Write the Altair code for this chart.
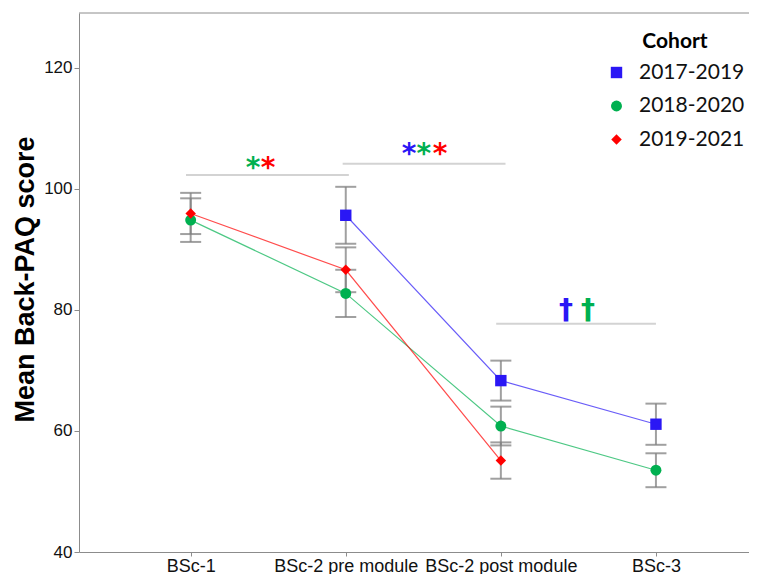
import json
import altair as alt
import pandas as pd

# ---------------- data ----------------
timepoints = ["BSc-1", "BSc-2 pre module", "BSc-2 post module", "BSc-3"]
cohorts = ["2017-2019", "2018-2020", "2019-2021"]
colors = ["#2a17f5", "#00b050", "#ff0000"]
shapes = ["square", "circle", "diamond"]

mean_2017 = [None, 95.6, 68.3, 61.1]
err_2017 = [None, 4.7, 3.3, 3.4]
mean_2018 = [94.8, 82.7, 60.8, 53.5]
err_2018 = [3.6, 3.9, 3.2, 2.8]
mean_2019 = [95.9, 86.6, 55.1, None]
err_2019 = [3.4, 3.7, 3.0, None]

# significance bars (start / end position on the timepoint axis, level)
sig_start = [-0.03, 0.98, 1.97]
sig_end = [1.02, 2.03, 3.0]
sig_level = [102.25, 104.1, 77.7]

# significance symbols
sym_text = ["*", "*", "*", "*", "*", "†", "†"]
sym_cohort = ["2018-2020", "2019-2021", "2017-2019", "2018-2020", "2019-2021",
              "2017-2019", "2018-2020"]
sym_x = [0.402, 0.499, 1.408, 1.504, 1.608, 2.42, 2.562]
sym_y = [104.3, 104.3, 106.5, 106.5, 106.5, 80.3, 80.3]

# ---------------- tables ----------------
rows = []
for coh, means, errs in [(cohorts[0], mean_2017, err_2017),
                         (cohorts[1], mean_2018, err_2018),
                         (cohorts[2], mean_2019, err_2019)]:
    for i, (m, e) in enumerate(zip(means, errs)):
        if m is None:
            continue
        rows.append({"x": i, "tp": timepoints[i], "cohort": coh, "mean": m,
                     "lo": m - e, "hi": m + e})
df = pd.DataFrame(rows)
sig_df = pd.DataFrame({"x": sig_start, "x2": sig_end, "y": sig_level})
sym_df = pd.DataFrame({"t": sym_text, "cohort": sym_cohort, "x": sym_x, "y": sym_y})

FONT = "Liberation Sans"
W, H = 670, 539
xscale = alt.Scale(domain=[-0.72, 3.60], nice=False, zero=False)
yscale = alt.Scale(domain=[40, 129], nice=False, zero=False)
cscale = alt.Scale(domain=cohorts, range=colors)
sscale = alt.Scale(domain=cohorts, range=shapes)

label_expr = json.dumps(timepoints) + "[datum.value]"

x_enc = alt.X("x:Q", scale=xscale,
              axis=alt.Axis(values=[0, 1, 2, 3], labelExpr=label_expr, title=None,
                            grid=False, tickSize=4, labelFontSize=18, labelFont=FONT,
                            labelColor="#111", labelPadding=1, labelFlush=False,
                            labelOverlap=False, domainColor="#8c8c8c",
                            tickColor="#8c8c8c"))
y_enc = alt.Y("mean:Q", scale=yscale,
              axis=alt.Axis(values=[40, 60, 80, 100, 120], grid=False, tickSize=5,
                            labelFontSize=17, labelFont=FONT, labelColor="#111",
                            labelPadding=2, domainColor="#8c8c8c", tickColor="#8c8c8c",
                            title="Mean Back-PAQ score", titleFont=FONT,
                            titleFontSize=27, titleFontWeight="bold", titleColor="black",
                            titleAngle=270, titleX=-46, titleY=266,
                            titleBaseline="alphabetic", titleAlign="center"))

base = alt.Chart(df)

err_rule = base.mark_rule(color="#808080", opacity=0.75, strokeWidth=2).encode(
    x=x_enc, y=alt.Y("lo:Q", scale=yscale), y2="hi:Q")
cap_lo = base.mark_tick(color="#808080", opacity=0.75, thickness=2, size=21,
                        orient="horizontal").encode(x=x_enc, y=alt.Y("lo:Q", scale=yscale))
cap_hi = base.mark_tick(color="#808080", opacity=0.75, thickness=2, size=21,
                        orient="horizontal").encode(x=x_enc, y=alt.Y("hi:Q", scale=yscale))

lines = base.mark_line(strokeWidth=1.2, opacity=0.7).encode(
    x=x_enc, y=y_enc,
    color=alt.Color("cohort:N", scale=cscale, legend=None),
    detail="cohort:N")

legend = alt.Legend(title="Cohort", orient="none", legendX=527, legendY=18,
                    titleFont="Lato", titleFontSize=21, titleFontWeight="bold",
                    titleColor="black", titleAnchor="middle", titlePadding=10,
                    labelFont="Lato", labelFontSize=21, labelColor="#111",
                    symbolSize=100, rowPadding=11.5, labelOffset=12,
                    symbolStrokeWidth=0)

points = base.mark_point(filled=True, opacity=1).encode(
    x=x_enc, y=y_enc,
    color=alt.Color("cohort:N", scale=cscale, legend=legend),
    shape=alt.Shape("cohort:N", scale=sscale, legend=legend),
    size=alt.Size("cohort:N", scale=alt.Scale(domain=cohorts, range=[130, 110, 140]),
                  legend=None))

sig_lines = alt.Chart(sig_df).mark_rule(color="#d3d3d3", strokeWidth=2).encode(
    x=alt.X("x:Q", scale=xscale), x2="x2:Q", y=alt.Y("y:Q", scale=yscale))

frame_top = alt.Chart(pd.DataFrame({"k": [0]})).mark_rule(
    color="#8c8c8c", strokeWidth=1).encode(
    x=alt.value(0), x2=alt.value(W), y=alt.value(0))

sym_ast = alt.Chart(sym_df).transform_filter("datum.t == '*'").mark_text(
    font="DejaVu Sans", fontSize=28, fontWeight="bold", baseline="middle", dy=6).encode(
    x=alt.X("x:Q", scale=xscale), y=alt.Y("y:Q", scale=yscale), text="t:N",
    color=alt.Color("cohort:N", scale=cscale, legend=None))
sym_dag = alt.Chart(sym_df).transform_filter("datum.t != '*'").mark_text(
    font="DejaVu Sans", fontSize=28, fontWeight="bold", baseline="middle", dy=3).encode(
    x=alt.X("x:Q", scale=xscale), y=alt.Y("y:Q", scale=yscale), text="t:N",
    color=alt.Color("cohort:N", scale=cscale, legend=None))

chart = alt.layer(frame_top, sig_lines, err_rule, cap_lo, cap_hi, lines, points,
                  sym_ast, sym_dag).properties(
    width=W, height=H,
    autosize=alt.AutoSizeParams(type="none"),
    padding={"left": 71, "top": 5, "right": 0, "bottom": 22},
    background="white",
).resolve_legend(color="independent", shape="independent", size="independent"
).configure_view(stroke=None)

chart.save("out.html", embed_options={"renderer": "svg", "actions": False})
